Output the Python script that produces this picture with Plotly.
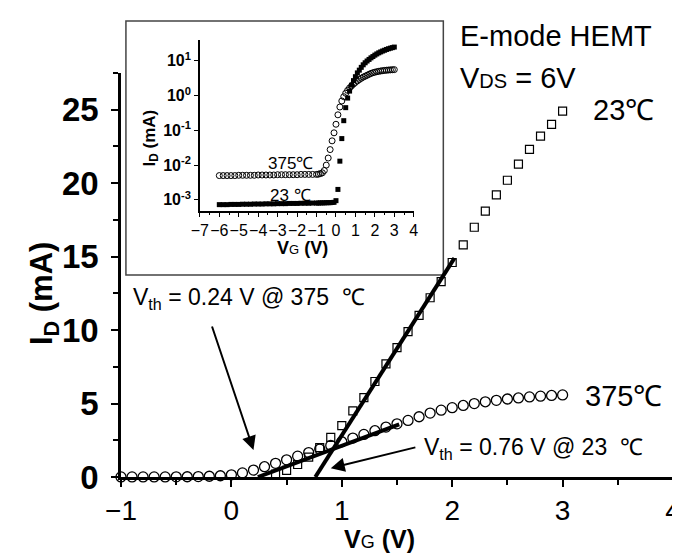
import plotly.graph_objects as go

# ---------------- data ----------------
vg_main = [-1.0, -0.9, -0.8, -0.7, -0.6, -0.5, -0.4, -0.3, -0.2, -0.1,
           0.0, 0.1, 0.2, 0.3, 0.4, 0.5, 0.6, 0.7, 0.8, 0.9,
           1.0, 1.1, 1.2, 1.3, 1.4, 1.5, 1.6, 1.7, 1.8, 1.9,
           2.0, 2.1, 2.2, 2.3, 2.4, 2.5, 2.6, 2.7, 2.8, 2.9, 3.0]
id_375 = [0.0054, 0.0055, 0.0057, 0.006, 0.007, 0.010, 0.016, 0.028, 0.05, 0.085,
          0.15, 0.28, 0.47, 0.70, 0.93, 1.17, 1.42, 1.66, 1.90, 2.15,
          2.40, 2.65, 2.90, 3.15, 3.40, 3.62, 3.85, 4.10, 4.35, 4.55,
          4.72, 4.87, 5.00, 5.12, 5.22, 5.31, 5.38, 5.45, 5.50, 5.55, 5.59]

vg_23 = [0.4, 0.5, 0.6, 0.7, 0.8, 0.9, 1.0, 1.1, 1.2, 1.3, 1.4, 1.5, 1.6, 1.7,
         1.8, 1.9, 2.0, 2.1, 2.2, 2.3, 2.4, 2.5, 2.6, 2.7, 2.8, 2.9, 3.0]
id_23 = [0.19, 0.45, 0.85, 1.35, 2.0, 2.7, 3.5, 4.5, 5.4, 6.5, 7.7, 8.8, 9.9, 11.0,
         12.2, 13.3, 14.6, 15.8, 17.0, 18.1, 19.2, 20.2, 21.3, 22.3, 23.2, 24.0, 24.9]

# linear-extrapolation (threshold) lines
fit23_x = [0.76, 2.02]
fit23_y = [0.0, 14.9]
fit375_x = [0.24, 1.52]
fit375_y = [0.0, 3.58]

# inset (log scale), off-state region
vg_off = [-6.0, -5.8, -5.6, -5.4, -5.2, -5.0, -4.8, -4.6, -4.4, -4.2, -4.0, -3.8, -3.6,
          -3.4, -3.2, -3.0, -2.8, -2.6, -2.4, -2.2, -2.0, -1.8, -1.6, -1.4, -1.2]
id23_off = [7.3e-4, 7.3e-4, 7.3e-4, 7.4e-4, 7.4e-4, 7.4e-4, 7.5e-4, 7.5e-4, 7.5e-4,
            7.6e-4, 7.6e-4, 7.6e-4, 7.7e-4, 7.7e-4, 7.7e-4, 7.8e-4, 7.8e-4, 7.8e-4,
            7.9e-4, 7.9e-4, 7.9e-4, 8.0e-4, 8.0e-4, 8.0e-4, 8.1e-4]
id375_off = [5.0e-3, 5.0e-3, 5.0e-3, 5.0e-3, 5.0e-3, 5.1e-3, 5.1e-3, 5.1e-3, 5.1e-3,
             5.1e-3, 5.2e-3, 5.2e-3, 5.2e-3, 5.2e-3, 5.2e-3, 5.3e-3, 5.3e-3, 5.3e-3,
             5.3e-3, 5.3e-3, 5.3e-3, 5.4e-3, 5.4e-3, 5.4e-3, 5.4e-3]
vg_23_sub = [-1.0, -0.9, -0.8, -0.7, -0.6, -0.5, -0.4, -0.3, -0.2, -0.1, 0.0, 0.1, 0.2, 0.3]
id_23_sub = [8.1e-4, 8.1e-4, 8.2e-4, 8.2e-4, 8.2e-4, 8.3e-4, 8.3e-4, 8.3e-4, 8.4e-4,
             8.5e-4, 9.5e-4, 2.0e-3, 1.3e-2, 5.8e-2]

inset_xticks = [-7, -6, -5, -4, -3, -2, -1, 0, 1, 2, 3, 4]
inset_yticks = [1e-3, 1e-2, 1e-1, 1e0, 1e1]
inset_ytext = ["10<sup>-3</sup>", "10<sup>-2</sup>", "10<sup>-1</sup>",
               "10<sup>0</sup>", "10<sup>1</sup>"]

FONT = "Arial, Liberation Sans, sans-serif"

fig = go.Figure()

# ---------------- main plot ----------------
fig.add_trace(go.Scatter(x=vg_main, y=id_375, mode="markers", cliponaxis=False,
                         marker=dict(symbol="circle-open", size=10, color="black",
                                     line=dict(width=1.3, color="black")),
                         showlegend=False))
fig.add_trace(go.Scatter(x=vg_23, y=id_23, mode="markers", cliponaxis=False,
                         marker=dict(symbol="square-open", size=8, color="black",
                                     line=dict(width=1.2, color="black")),
                         showlegend=False))
fig.add_trace(go.Scatter(x=fit23_x, y=fit23_y, mode="lines", cliponaxis=False,
                         line=dict(color="black", width=4), showlegend=False))
fig.add_trace(go.Scatter(x=fit375_x, y=fit375_y, mode="lines", cliponaxis=False,
                         line=dict(color="black", width=4), showlegend=False))

# ---------------- inset ----------------
fig.add_trace(go.Scatter(x=vg_off + vg_main, y=id375_off + id_375, mode="markers",
                         xaxis="x2", yaxis="y2", cliponaxis=False,
                         marker=dict(symbol="circle-open", size=6, color="black",
                                     line=dict(width=1, color="black")),
                         showlegend=False))
fig.add_trace(go.Scatter(x=vg_off + vg_23_sub + vg_23, y=id23_off + id_23_sub + id_23,
                         mode="markers", xaxis="x2", yaxis="y2", cliponaxis=False,
                         marker=dict(symbol="square", size=5, color="black"),
                         showlegend=False))

W, H = 680, 554
ml, mr, mt, mb = 113, 7, 10, 85
pw, ph = W - ml - mr, H - mt - mb


def px(xp):
    return (xp - ml) / pw


def py(yp):
    return (H - mb - yp) / ph


axis_common = dict(showline=True, linecolor="black", showgrid=False, zeroline=False,
                   ticks="outside", tickcolor="black")

fig.update_layout(
    width=W, height=H,
    margin=dict(l=ml, r=mr, t=mt, b=mb),
    paper_bgcolor="white", plot_bgcolor="white",
    font=dict(family=FONT, color="black"),
    xaxis=dict(**axis_common, range=[-1, 4], dtick=1, tick0=0, linewidth=2.5,
               tickwidth=2, ticklen=7, domain=[0, 1], tickangle=0,
               tickfont=dict(size=28, family=FONT),
               minor=dict(dtick=0.5, ticks="outside", ticklen=5, tickwidth=2,
                          tickcolor="black")),
    yaxis=dict(**axis_common, range=[0, 27.5], dtick=5, tick0=0, linewidth=2.5,
               tickwidth=2, ticklen=7, domain=[0, py(65)], ticklabelstandoff=6,
               tickfont=dict(size=33, family=FONT, weight="bold"),
               minor=dict(dtick=2.5, ticks="outside", ticklen=5, tickwidth=2,
                          tickcolor="black")),
    xaxis2=dict(**axis_common, range=[-7, 4], tickvals=inset_xticks, anchor="y2",
                linewidth=1.5, tickwidth=1.2, ticklen=4, tickangle=0,
                domain=[px(193), px(410)],
                tickfont=dict(size=16, family=FONT),
                minor=dict(dtick=0.5, ticks="outside", ticklen=2.5, tickwidth=1,
                           tickcolor="black")),
    yaxis2=dict(**axis_common, type="log", range=[-3.32, 1.6], anchor="x2",
                tickvals=inset_yticks, ticktext=inset_ytext,
                linewidth=1.5, tickwidth=1.2, ticklen=4,
                domain=[py(203), py(32)],
                tickfont=dict(size=16, family=FONT, weight="bold")),
    shapes=[dict(type="rect", xref="paper", yref="paper",
                 x0=px(118), x1=px(440), y0=py(267), y1=py(13),
                 line=dict(color="#444", width=1.5), fillcolor="rgba(0,0,0,0)",
                 layer="below")],
)

ann = []


def text(x, y, s, size, xanchor="left", angle=0, xref="paper", yref="paper"):
    ann.append(dict(x=x, y=y, xref=xref, yref=yref, text=s, showarrow=False,
                    xanchor=xanchor, yanchor="middle", textangle=angle,
                    font=dict(size=size, family=FONT, color="black")))


text(px(455), py(28), "E-mode HEMT", 29)
text(px(455), py(70), "V<span style='font-size:20px'>DS</span> = 6V", 29)
text(px(590), py(102), "23℃", 29)
text(px(582), py(388), "375℃", 29)
text(px(123), py(290), "V<sub>th</sub> = 0.24 V @ 375  ℃", 23)
text(px(418), py(440), "V<sub>th</sub> = 0.76 V @ 23  ℃", 23)
# axis titles
text(px(375), py(531), "<b>V</b><span style='font-size:18px'>G</span><b> (V)</b>", 25,
     xanchor="center")
text(px(35), py(285), "<b>I<sub>D</sub> (mA)</b>", 31, xanchor="center", angle=-90)
# inset titles & labels
text(px(297), py(240), "<b>V</b><span style='font-size:13px'>G</span><b> (V)</b>", 18,
     xanchor="center")
text(px(143), py(130), "<b>I<sub>D</sub> (mA)</b>", 17, xanchor="center", angle=-90)
text(-3.6, -1.94, "375℃", 17, xref="x2", yref="y2")
text(-3.5, -2.86, "23 ℃", 17, xref="x2", yref="y2")

# arrows
ann.append(dict(x=0.2, y=1.84, ax=-0.18, ay=10.35, xref="x", yref="y",
                axref="x", ayref="y", text="", showarrow=True, arrowhead=2,
                arrowsize=1.4, arrowwidth=2, arrowcolor="black"))
ann.append(dict(x=0.9, y=0.6, ax=1.68, ay=2.04, xref="x", yref="y",
                axref="x", ayref="y", text="", showarrow=True, arrowhead=2,
                arrowsize=1.4, arrowwidth=2, arrowcolor="black"))

fig.update_layout(annotations=ann)
fig.write_html("out.html")
